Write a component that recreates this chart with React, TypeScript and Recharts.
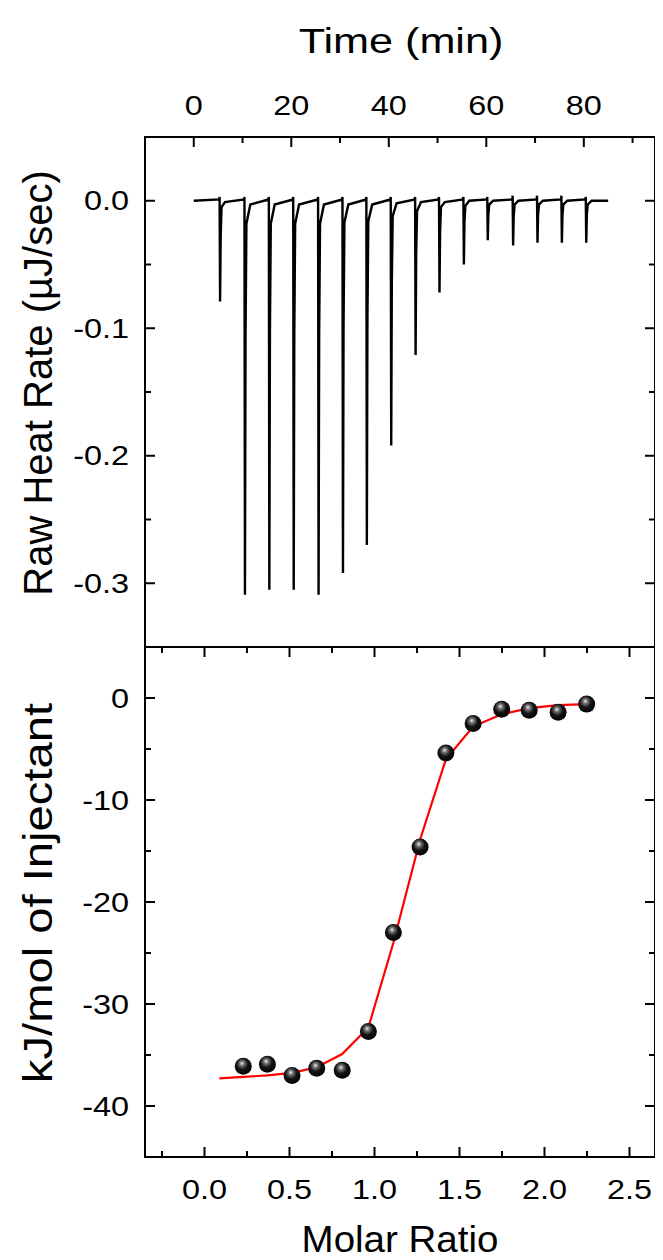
import React from "react";
import { LineChart, ComposedChart, Line, Scatter, XAxis, YAxis } from "recharts";

const FONT = "'Liberation Sans', Arial, Helvetica, sans-serif";

// ---- top panel: raw thermogram ----
const timeTicks = [0, 10, 20, 30, 40, 50, 60, 70, 80, 90];
const timeLabels = [0, 20, 40, 60, 80];
const heatTicks = [0, -0.05, -0.1, -0.15, -0.2, -0.25, -0.3];
const heatLabels = [0, -0.1, -0.2, -0.3];

// [time (min), heat rate (µJ/sec)]
const rawTrace: [number, number][] = [
  [0, 0], [5.25, 0.001], [5.3, 0.003], [5.4, -0.079], [5.52, -0.028], [5.7, -0.005], [6.4, -0.001],
  [10.35, 0.001], [10.4, 0.003], [10.5, -0.309], [10.62, -0.105], [10.8, -0.018], [11.6, -0.003],
  [15.35, 0.001], [15.4, 0.003], [15.5, -0.305], [15.62, -0.104], [15.8, -0.018], [16.6, -0.003],
  [20.35, 0.001], [20.4, 0.003], [20.5, -0.305], [20.62, -0.104], [20.8, -0.018], [21.6, -0.003],
  [25.45, 0.001], [25.5, 0.003], [25.6, -0.309], [25.72, -0.105], [25.9, -0.018], [26.7, -0.003],
  [30.45, 0.001], [30.5, 0.003], [30.6, -0.292], [30.72, -0.1], [30.9, -0.017], [31.7, -0.003],
  [35.35, 0.001], [35.4, 0.003], [35.5, -0.27], [35.62, -0.092], [35.8, -0.016], [36.6, -0.003],
  [40.35, 0.001], [40.4, 0.003], [40.5, -0.192], [40.62, -0.065], [40.8, -0.012], [41.6, -0.002],
  [45.35, 0.001], [45.4, 0.003], [45.5, -0.121], [45.62, -0.041], [45.8, -0.008], [46.6, -0.001],
  [50.25, 0.001], [50.3, 0.003], [50.4, -0.072], [50.52, -0.025], [50.7, -0.005], [51.5, -0.001],
  [55.25, 0.001], [55.3, 0.003], [55.4, -0.05], [55.52, -0.017], [55.7, -0.004], [56.5, 0],
  [60.15, 0.001], [60.2, 0.003], [60.3, -0.031], [60.42, -0.011], [60.6, -0.003], [61.4, 0],
  [65.35, 0.001], [65.4, 0.004], [65.5, -0.035], [65.62, -0.012], [65.8, -0.003], [66.6, 0],
  [70.35, 0.001], [70.4, 0.004], [70.5, -0.033], [70.62, -0.011], [70.8, -0.003], [71.6, 0],
  [75.35, 0.001], [75.4, 0.004], [75.5, -0.033], [75.62, -0.011], [75.8, -0.003], [76.6, 0],
  [80.35, 0.001], [80.4, 0.003], [80.5, -0.033], [80.62, -0.011], [80.8, -0.003], [81.6, 0],
  [85, 0],
];

// ---- bottom panel: integrated heats + fit ----
const ratioTicks = [-0.25, 0, 0.25, 0.5, 0.75, 1, 1.25, 1.5, 1.75, 2, 2.25, 2.5];
const ratioLabels = [0, 0.5, 1, 1.5, 2, 2.5];
const kjTicks = [0, -5, -10, -15, -20, -25, -30, -35, -40];
const kjLabels = [0, -10, -20, -30, -40];

const molarRatio = [0.228, 0.37, 0.515, 0.66, 0.81, 0.964, 1.111, 1.268, 1.42, 1.58, 1.748, 1.91, 2.08, 2.248];
const injHeat = [-36.1, -35.9, -37.0, -36.3, -36.5, -32.7, -23.0, -14.6, -5.4, -2.5, -1.1, -1.2, -1.4, -0.6];
const fitRatio = [0.087, 0.228, 0.37, 0.515, 0.66, 0.81, 0.964, 1.111, 1.268, 1.42, 1.58, 1.748, 1.91, 2.08, 2.248];
const fitHeat = [-37.3, -37.15, -37.0, -36.75, -36.2, -34.9, -32.3, -24.0, -13.9, -6.0, -2.8, -1.6, -1.0, -0.7, -0.6];

const traceData = rawTrace.map(([t, q]) => ({ t, q }));
const pointData = molarRatio.map((x, i) => ({ x, y: injHeat[i] }));
const fitData = fitRatio.map((x, i) => ({ x, y: fitHeat[i] }));

const TICK_SIZE = 27;
const STRETCH = 1.2;
const MAJOR_LEN = 10;
const MINOR_LEN = 6;

type Side = "left" | "right" | "top" | "bottom";

const isIn = (list: number[], v: number) => list.some((m) => Math.abs(m - v) < 1e-6);

// inward tick marks only
function tickMarks(side: Side, majors: number[]) {
  return function TickMark(props: any) {
    const { x, y, payload } = props;
    const len = isIn(majors, payload.value) ? MAJOR_LEN : MINOR_LEN;
    let x2 = x;
    let y2 = y;
    if (side === "left") x2 = x + len;
    else if (side === "right") x2 = x - len;
    else if (side === "top") y2 = y + len;
    else y2 = y - len;
    return <path d={`M${x},${y}L${x2},${y2}`} stroke="#000" strokeWidth={2} fill="none" />;
  };
}

// tick labels only
function tickText(side: Side, majors: number[], fmt: (v: number) => string) {
  return function TickText(props: any) {
    const { x, y, payload } = props;
    const v = payload.value as number;
    if (!isIn(majors, v)) return <g />;
    let tx = x;
    let ty = y;
    let anchor: "end" | "middle" = "middle";
    if (side === "left") {
      tx = x - 16;
      ty = y + 9.5;
      anchor = "end";
    } else if (side === "top") {
      ty = y - 22;
    } else {
      ty = y + 42;
    }
    return (
      <text
        transform={`translate(${tx},${ty}) scale(${STRETCH},1)`}
        textAnchor={anchor}
        fontSize={TICK_SIZE}
        fontFamily={FONT}
        fill="#000"
      >
        {fmt(v)}
      </text>
    );
  };
}

function AxisTitle({ px, py, text, size, stretch, along, vertical }: any) {
  const t = vertical
    ? `translate(${px},${py}) scale(${stretch},${along ?? 1}) rotate(-90)`
    : `translate(${px},${py}) scale(${stretch},1)`;
  return (
    <text transform={t} textAnchor="middle" fontSize={size} fontFamily={FONT} fill="#000">
      {text}
    </text>
  );
}

function Sphere(props: any) {
  const { cx, cy } = props;
  if (cx == null || cy == null) return null;
  return <circle cx={cx} cy={cy} r={8.5} fill="url(#sphereGrad)" />;
}

const frameStyle: React.CSSProperties = {
  position: "absolute",
  left: 144,
  width: 512,
  height: 512,
  border: "2px solid #000",
  boxSizing: "border-box",
  pointerEvents: "none",
};

const quiet = { tickSize: 0, tickMargin: 0, tickLine: false, axisLine: false, allowDataOverflow: true, interval: 0 as const };

export default function App() {
  return (
    <div style={{ position: "relative", width: 663, height: 1260, margin: -8, background: "#fff", overflow: "hidden" }}>
      <svg width={0} height={0} style={{ position: "absolute" }}>
        <defs>
          <radialGradient id="sphereGrad" cx="45%" cy="40%" r="60%" fx="42%" fy="32%">
            <stop offset="0%" stopColor="#f2f2f2" />
            <stop offset="22%" stopColor="#777" />
            <stop offset="55%" stopColor="#151515" />
            <stop offset="100%" stopColor="#000" />
          </radialGradient>
        </defs>
      </svg>

      <div style={{ position: "absolute", left: 0, top: 0 }}>
        <LineChart width={663} height={650} data={traceData} margin={{ top: 77, right: 7, bottom: 3, left: 45 }}>
          <XAxis
            xAxisId="t"
            orientation="top"
            dataKey="t"
            type="number"
            domain={[-10, 94.6]}
            ticks={timeTicks}
            height={60}
            {...quiet}
            tick={tickText("top", timeLabels, (v) => String(v))}
            label={<AxisTitle px={401} py={53} text="Time (min)" size={36} stretch={1.2} />}
          />
          <XAxis
            xAxisId="tm"
            orientation="top"
            mirror
            dataKey="t"
            type="number"
            domain={[-10, 94.6]}
            ticks={timeTicks}
            height={1}
            {...quiet}
            tick={tickMarks("top", timeLabels)}
          />
          <YAxis
            yAxisId="l"
            orientation="left"
            type="number"
            domain={[-0.35, 0.05]}
            ticks={heatTicks}
            width={100}
            {...quiet}
            tick={tickText("left", heatLabels, (v) => v.toFixed(1))}
            label={<AxisTitle px={52} py={383} text="Raw Heat Rate (µJ/sec)" size={40} stretch={1} vertical />}
          />
          <YAxis
            yAxisId="lm"
            orientation="left"
            mirror
            type="number"
            domain={[-0.35, 0.05]}
            ticks={heatTicks}
            width={1}
            {...quiet}
            tick={tickMarks("left", heatLabels)}
          />
          <YAxis
            yAxisId="r"
            orientation="right"
            type="number"
            domain={[-0.35, 0.05]}
            ticks={heatTicks}
            width={1}
            {...quiet}
            tick={tickMarks("right", heatLabels)}
          />
          <Line
            xAxisId="t"
            yAxisId="l"
            dataKey="q"
            type="linear"
            stroke="#000"
            strokeWidth={2.4}
            dot={false}
            isAnimationActive={false}
          />
        </LineChart>
      </div>

      <div style={{ position: "absolute", left: 0, top: 640 }}>
        <ComposedChart width={663} height={620} margin={{ top: 6, right: 7, bottom: 43, left: 45 }}>
          <XAxis
            xAxisId="m"
            orientation="bottom"
            dataKey="x"
            type="number"
            domain={[-0.35, 2.65]}
            ticks={ratioTicks}
            height={60}
            {...quiet}
            tick={tickText("bottom", ratioLabels, (v) => v.toFixed(1))}
            label={<AxisTitle px={400} py={612} text="Molar Ratio" size={36} stretch={1.07} />}
          />
          <XAxis
            xAxisId="mb"
            orientation="bottom"
            mirror
            dataKey="x"
            type="number"
            domain={[-0.35, 2.65]}
            ticks={ratioTicks}
            height={1}
            {...quiet}
            tick={tickMarks("bottom", ratioLabels)}
          />
          <XAxis
            xAxisId="mt"
            orientation="top"
            dataKey="x"
            type="number"
            domain={[-0.35, 2.65]}
            ticks={ratioTicks}
            height={1}
            {...quiet}
            tick={tickMarks("top", ratioLabels)}
          />
          <YAxis
            yAxisId="k"
            orientation="left"
            type="number"
            domain={[-45, 5]}
            ticks={kjTicks}
            width={100}
            {...quiet}
            tick={tickText("left", kjLabels, (v) => String(v))}
            label={<AxisTitle px={52} py={253} text="kJ/mol of Injectant" size={40} stretch={1} along={1.18} vertical />}
          />
          <YAxis
            yAxisId="km"
            orientation="left"
            mirror
            type="number"
            domain={[-45, 5]}
            ticks={kjTicks}
            width={1}
            {...quiet}
            tick={tickMarks("left", kjLabels)}
          />
          <YAxis
            yAxisId="kr"
            orientation="right"
            type="number"
            domain={[-45, 5]}
            ticks={kjTicks}
            width={1}
            {...quiet}
            tick={tickMarks("right", kjLabels)}
          />
          <Scatter
            xAxisId="m"
            yAxisId="k"
            data={pointData}
            dataKey="y"
            shape={<Sphere />}
            isAnimationActive={false}
          />
          <Line
            xAxisId="m"
            yAxisId="k"
            data={fitData}
            dataKey="y"
            type="linear"
            stroke="#ff0000"
            strokeWidth={2.2}
            dot={false}
            isAnimationActive={false}
          />
        </ComposedChart>
      </div>

      <div style={{ ...frameStyle, top: 136 }} />
      <div style={{ ...frameStyle, top: 646 }} />
    </div>
  );
}
